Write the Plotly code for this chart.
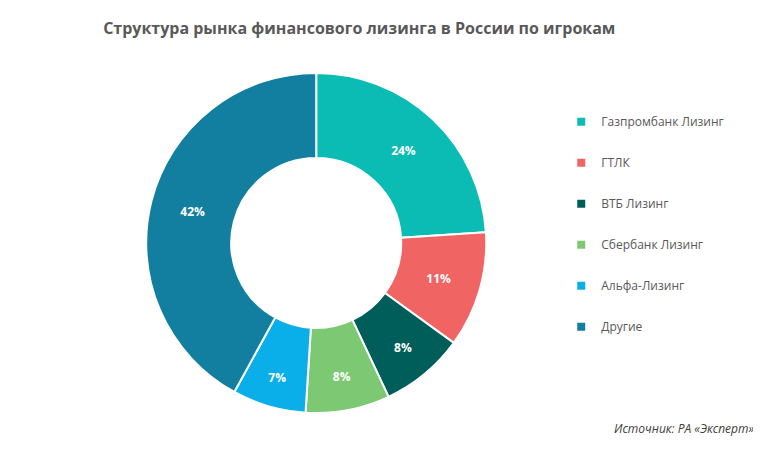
import plotly.graph_objects as go

labels = ["Газпромбанк Лизинг", "ГТЛК", "ВТБ Лизинг", "Сбербанк Лизинг", "Альфа-Лизинг", "Другие"]
values = [24, 11, 8, 8, 7, 42]
colors = ["#0BBCB5", "#F06464", "#005E5A", "#7DC873", "#0AAEE8", "#127FA0"]

fig = go.Figure()
fig.add_trace(go.Pie(
    labels=labels, values=values, hole=0.5, sort=False, direction="clockwise",
    rotation=0, marker=dict(colors=colors, line=dict(color="white", width=2)),
    texttemplate="<b>%{value}%</b>", textposition="inside", insidetextorientation="horizontal",
    textfont=dict(color="white", size=12, family="Open Sans"),
    showlegend=False,
    domain=dict(x=[0.1815, 0.6285], y=[0.102, 0.856]),
))

# legend entries with wider spacing
for i, (lab, col) in enumerate(zip(labels, colors)):
    fig.add_trace(go.Scatter(
        x=[None], y=[None], mode="markers", name=lab, legendgroup=str(i),
        marker=dict(symbol="square", size=8, color=col),
    ))

fig.update_xaxes(visible=False)
fig.update_yaxes(visible=False)
fig.update_layout(
    width=761, height=451, margin=dict(l=0, r=0, t=0, b=0),
    paper_bgcolor="white", plot_bgcolor="white",
    font=dict(family="Open Sans", color="#595959"),
    title=dict(text="<b>Структура рынка финансового лизинга в России по игрокам</b>",
               x=0.125, xanchor="left", y=0.955, yanchor="middle",
               font=dict(size=16, color="#595959")),
    legend=dict(x=0.727, y=0.78, xanchor="left", yanchor="top", tracegroupgap=22,
                font=dict(size=12, color="#595959"), itemwidth=30),
    annotations=[dict(text="<i>Источник: РА «Эксперт»</i>", x=0.983, y=0.045,
                      xref="paper", yref="paper", xanchor="right", showarrow=False,
                      font=dict(size=12, color="#404040"))],
)
fig.write_html("out.html")
